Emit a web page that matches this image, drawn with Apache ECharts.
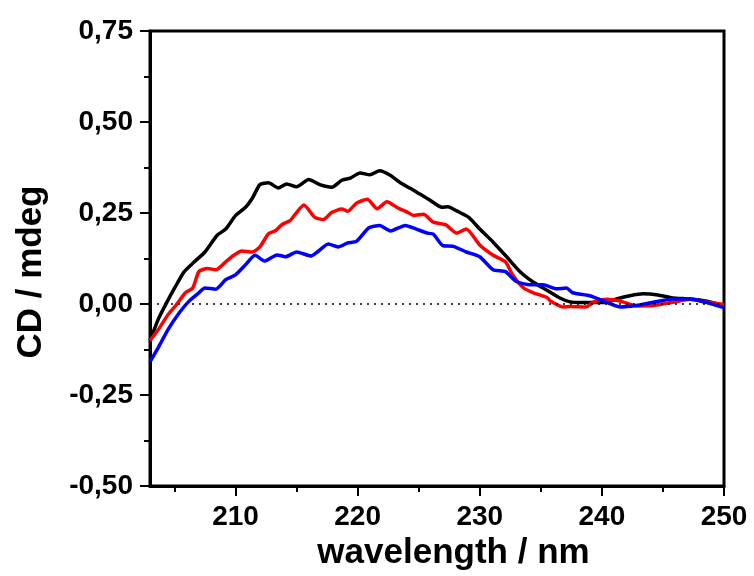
<!DOCTYPE html>
<html>
<head>
<meta charset="utf-8">
<script src="https://cdn.jsdelivr.net/npm/echarts@6/dist/echarts.min.js"></script>
<style>
html,body{margin:0;padding:0;background:#fff;}
#chart{width:754px;height:576px;}
</style>
</head>
<body>
<div id="chart"></div>
<script>
// ---- data ----
const blackX = [203.0,203.7,204.3,205.1,205.8,206.5,207.5,208.5,209.2,210.0,210.8,211.4,212.0,212.7,213.5,214.2,215.0,216.0,216.9,217.9,218.7,219.4,220.2,221.0,221.8,222.7,223.5,224.3,225.1,225.9,226.9,227.4,228.1,229.1,230.0,231.1,232.2,233.3,234.4,235.5,236.6,237.4,238.2,239.0,240.4,241.2,242.3,243.4,244.7,245.8,247.2,248.6,250.0];
const blackY = [-0.10,-0.04,0.0,0.049,0.089,0.112,0.143,0.189,0.206,0.243,0.265,0.292,0.328,0.333,0.319,0.330,0.322,0.342,0.328,0.321,0.340,0.346,0.360,0.355,0.366,0.353,0.333,0.318,0.302,0.286,0.266,0.267,0.256,0.238,0.206,0.170,0.130,0.089,0.060,0.038,0.016,0.006,0.004,0.004,0.005,0.014,0.023,0.028,0.024,0.017,0.014,0.008,-0.004];

const redX = [203.0,203.7,204.5,205.2,205.9,206.5,207.0,207.7,208.4,209.2,209.7,210.5,211.4,212.0,212.7,213.3,213.8,214.5,214.9,215.6,216.5,217.2,217.9,218.7,219.2,219.9,220.8,221.6,222.4,223.3,224.1,224.6,225.4,226.2,227.2,228.1,228.9,230.0,231.1,232.1,232.7,233.6,234.4,235.5,235.8,236.8,237.4,238.7,239.3,240.4,241.5,242.8,244.2,245.8,247.2,248.6,250.0];
const redY = [-0.10,-0.069,-0.028,0.0,0.031,0.044,0.089,0.098,0.094,0.116,0.130,0.146,0.143,0.157,0.193,0.202,0.218,0.230,0.247,0.272,0.238,0.232,0.252,0.261,0.255,0.277,0.288,0.262,0.281,0.264,0.252,0.243,0.247,0.225,0.218,0.195,0.206,0.162,0.134,0.116,0.080,0.044,0.031,0.018,0.008,-0.008,-0.007,-0.008,0.005,0.013,0.008,-0.005,-0.004,0.005,0.013,0.005,-0.001];

const blueX = [203.0,203.7,204.5,205.4,206.2,207.0,207.5,208.4,209.2,210.0,210.8,211.6,212.4,213.4,214.1,215.0,216.2,216.7,217.6,218.4,219.2,219.9,220.9,221.8,222.7,223.9,224.8,225.7,226.2,227.0,227.8,228.9,230.0,231.1,232.1,233.0,234.1,235.2,236.3,237.1,237.6,239.0,239.8,241.5,242.8,244.2,245.8,247.2,248.6,250.0];
const blueY = [-0.159,-0.118,-0.069,-0.024,0.008,0.031,0.044,0.041,0.067,0.080,0.107,0.134,0.118,0.135,0.130,0.143,0.132,0.143,0.165,0.157,0.168,0.172,0.209,0.216,0.201,0.216,0.206,0.195,0.192,0.160,0.159,0.143,0.130,0.094,0.089,0.062,0.053,0.053,0.042,0.044,0.031,0.023,0.013,-0.008,-0.004,0.005,0.014,0.014,0.004,-0.010];

const xMajorTicks = [210,220,230,240,250];
const xMinorTicks = [205,215,225,235,245];
const yTickLabels = ['-0,50','-0,25','0,00','0,25','0,50','0,75'];

// ---- chart ----
const pair = (xs, ys) => xs.map((x, i) => [x, ys[i]]);
const FONT = "'Liberation Sans', Arial, sans-serif";
const chart = echarts.init(document.getElementById('chart'), null, {renderer: 'canvas'});

chart.setOption({
  animation: false,
  backgroundColor: '#fff',
  grid: {left: 150, right: 30, top: 31, bottom: 83, show: true, borderColor: '#000', borderWidth: 3, backgroundColor: 'transparent', containLabel: false},
  xAxis: [{
    type: 'value', min: 203, max: 250, position: 'bottom',
    name: 'wavelength / nm', nameLocation: 'middle', nameGap: 44,
    nameTextStyle: {fontFamily: FONT, fontWeight: 'bold', fontSize: 35, color: '#000', padding: [0, 0, 0, 33]},
    axisLine: {show: true, onZero: false, lineStyle: {color: '#000', width: 3}},
    axisTick: {show: true, customValues: xMajorTicks, length: 10, lineStyle: {color: '#000', width: 2}},
    axisLabel: {customValues: xMajorTicks, margin: 17, fontFamily: FONT, fontWeight: 'bold', fontSize: 28, color: '#000'},
    splitLine: {show: false}
  }, {
    type: 'value', min: 203, max: 250, position: 'bottom',
    axisLine: {show: false, onZero: false},
    axisTick: {show: true, customValues: xMinorTicks, length: 6, lineStyle: {color: '#000', width: 2}},
    axisLabel: {show: false},
    splitLine: {show: false}
  }],
  yAxis: {
    type: 'value', min: -0.5, max: 0.75, interval: 0.25,
    name: 'CD / mdeg', nameLocation: 'middle', nameGap: 101,
    nameTextStyle: {fontFamily: FONT, fontWeight: 'bold', fontSize: 35, color: '#000', padding: [0, 27, 0, 0]},
    axisLine: {show: true, onZero: false, lineStyle: {color: '#000', width: 3}},
    axisTick: {show: true, length: 10, lineStyle: {color: '#000', width: 2}},
    minorTick: {show: true, splitNumber: 2, length: 6, lineStyle: {color: '#000', width: 2}},
    axisLabel: {margin: 17, fontFamily: FONT, fontWeight: 'bold', fontSize: 28, color: '#000',
      formatter: v => yTickLabels[Math.round((v + 0.5) / 0.25)]},
    splitLine: {show: false}
  },
  series: [
    {type: 'line', name: 'black', data: pair(blackX, blackY), showSymbol: false, smooth: 0.2,
     lineStyle: {color: '#000', width: 3.5}, itemStyle: {color: '#000'},
     markLine: {silent: true, symbol: 'none', label: {show: false},
       lineStyle: {color: '#000', width: 1.5, type: [2, 5]}, data: [{yAxis: 0}]}},
    {type: 'line', name: 'red', data: pair(redX, redY), showSymbol: false, smooth: 0.2,
     lineStyle: {color: '#ff0000', width: 3.5}, itemStyle: {color: '#ff0000'}},
    {type: 'line', name: 'blue', data: pair(blueX, blueY), showSymbol: false, smooth: 0.2,
     lineStyle: {color: '#0000ff', width: 3.5}, itemStyle: {color: '#0000ff'}}
  ]
});
</script>
</body>
</html>
